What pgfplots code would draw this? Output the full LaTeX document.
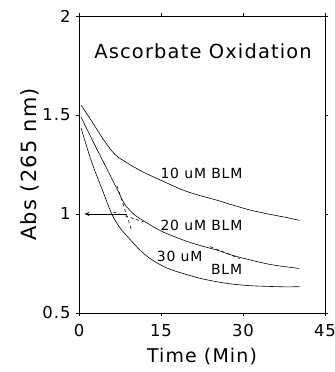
\documentclass[border=0pt]{standalone}
\usepackage{pgfplots}
\pgfplotsset{compat=1.18}
\usetikzlibrary{arrows.meta}
\usepackage{fontspec}
\setmainfont{DejaVu Sans}
\newfontfamily\wide[LetterSpace=6]{DejaVu Sans}
\begin{document}
\begin{tikzpicture}[x=1bp,y=1bp]
\begin{axis}[
  name=ax,
  scale only axis, width=246bp, height=297bp,
  xmin=0, xmax=45, ymin=0.5, ymax=2,
  xtick={0,15,30,45}, ytick={0.5,1,1.5,2},
  yticklabels={0.5,1,1.5,2},
  /pgf/number format/assume math mode=true,
  tick align=outside, major tick length=3bp,
  tick style={black, thin},
  axis line style={thin},
  ticklabel style={font=\wide\fontsize{16.5}{16.5}\selectfont},
  xticklabel style={yshift=-5bp},
  yticklabel style={xshift=-2bp},
  xlabel={Time (Min)}, ylabel={Abs (265 nm)},
  xlabel style={font=\wide\fontsize{19}{19}\selectfont, yshift=-4bp},
  ylabel style={font=\wide\fontsize{21}{21}\selectfont, yshift=-4bp},
  clip=false,
]
\addplot[black, semithick, smooth] coordinates {
(0.37,1.55) (2.3,1.47) (4.5,1.375) (6.6,1.30) (9,1.255) (11.5,1.215) (13,1.195) (15.4,1.165) (19,1.121) (22,1.094) (25.2,1.07) (28,1.046) (31.3,1.02) (35,0.998) (38,0.982) (40.3,0.968)};
\addplot[black, semithick, smooth] coordinates {
(0.37,1.49) (2.9,1.348) (5.4,1.212) (7.2,1.113) (8.4,1.048) (10.2,0.995) (12.6,0.952) (15,0.914) (19,0.869) (22,0.842) (25.2,0.818) (28,0.792) (31.3,0.768) (35,0.745) (38,0.733) (40.3,0.725)};
\addplot[black, semithick, smooth] coordinates {
(0.37,1.434) (2.3,1.264) (4.15,1.13) (6,1.0) (7.5,0.93) (9,0.882) (11,0.822) (13,0.775) (16,0.728) (19,0.70) (22,0.676) (25.2,0.658) (28,0.646) (31.3,0.638) (35,0.634) (38,0.632) (40.3,0.633)};
\addplot[black, semithick, dashed] coordinates {(7.0,1.14) (9.6,0.92)};
\addplot[black, semithick, dashed] coordinates {(6.3,1.01) (11.8,0.96)};
\addplot[black, semithick, dashed] coordinates {(24,0.835) (29.4,0.775)};
\addplot[black, semithick, -{Stealth[length=5bp,width=4bp]}] coordinates {(8.7,1) (1.0,1)};
\node[font=\wide\fontsize{19.5}{19.5}\selectfont] at (axis cs:22.7,1.82) {Ascorbate Oxidation};
\node[font=\wide\fontsize{14}{14}\selectfont] at (axis cs:22.4,1.206) {10 uM BLM};
\node[font=\wide\fontsize{14}{14}\selectfont] at (axis cs:22.4,0.944) {20 uM BLM};
\node[font=\wide\fontsize{14}{14}\selectfont] at (axis cs:18.4,0.784) {30 uM};
\node[font=\wide\fontsize{14}{14}\selectfont] at (axis cs:27,0.722) {BLM};
\end{axis}
\pgfresetboundingbox
\path ([shift={(-79bp,-59bp)}]ax.south west) rectangle ([shift={(10bp,16bp)}]ax.north east);
\end{tikzpicture}
\end{document}
